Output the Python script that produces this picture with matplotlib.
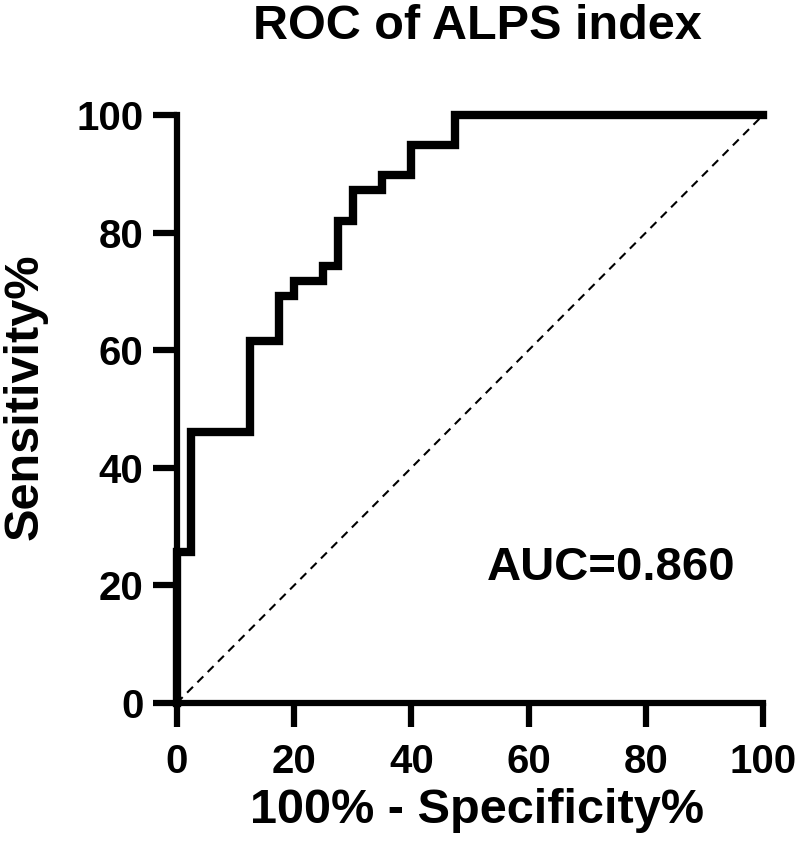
import matplotlib
matplotlib.use('Agg')
import matplotlib.pyplot as plt

# pontos da curva ROC (100% - especificidade, sensibilidade)
fpr = [0, 2.5, 12.5, 17.5, 20, 25, 27.5, 30, 35, 40, 47.5, 100]
tpr = [0, 25.64, 46.15, 61.54, 69.23, 71.79, 74.36, 82.05, 87.18, 89.74, 94.87, 100]
ticks = [0, 20, 40, 60, 80, 100]
auc = 0.860

plt.rcParams['font.family'] = ['Liberation Sans', 'DejaVu Sans']
plt.rcParams['font.weight'] = 'bold'

fig = plt.figure(figsize=(8, 8.61), dpi=100)
ax = fig.add_axes([0.221, 0.1835, 0.733, 0.683])

ax.plot(fpr, tpr, drawstyle='steps-pre', color='black', lw=6, solid_joinstyle='miter', clip_on=False, zorder=3)
ax.plot([0, 100], [0, 100], color='black', lw=1.5, ls=(0, (4, 3)), zorder=2)

ax.set_xlim(0, 100)
ax.set_ylim(0, 100)
ax.set_xticks(ticks)
ax.set_yticks(ticks)

for s in ['top', 'right']:
    ax.spines[s].set_visible(False)
for s in ['left', 'bottom']:
    ax.spines[s].set_linewidth(4.5)
    ax.spines[s].set_capstyle('projecting')

ax.tick_params(length=17, width=4.5, labelsize=29, pad=7)
ax.tick_params(axis='x', pad=12)
for lab in ax.get_xticklabels() + ax.get_yticklabels():
    lab.set_fontweight('bold')

ax.set_xlabel('100% - Specificity%', fontsize=35, fontweight='bold', labelpad=5)
ax.xaxis.label.set_x(0.512)
ax.set_ylabel('Sensitivity%', fontsize=35, fontweight='bold', labelpad=21)
ax.yaxis.label.set_y(0.52)
ax.set_title('ROC of ALPS index', fontsize=35, fontweight='bold', pad=55, x=0.512)

ax.text(74, 23, f'AUC={auc:.3f}', fontsize=34, fontweight='bold', ha='center', va='center')

fig.savefig('out.png', dpi=100)
